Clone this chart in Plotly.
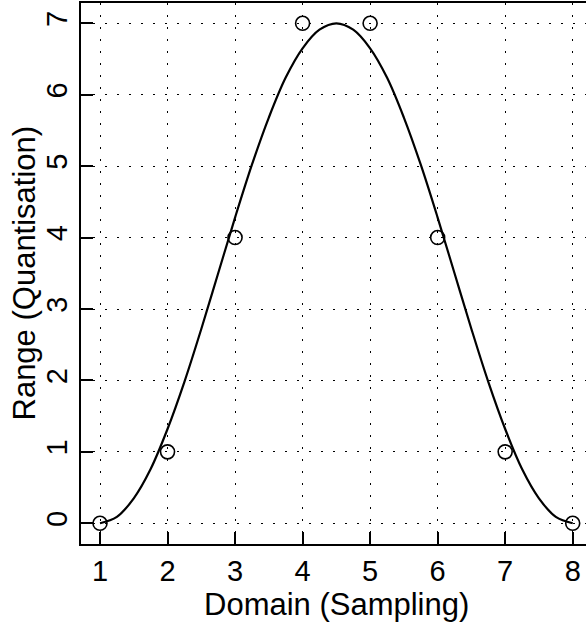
import plotly.graph_objects as go

# observed samples
sample_x = [1, 2, 3, 4, 5, 6, 7, 8]
sample_y = [0, 1, 4, 7, 7, 4, 1, 0]

# smooth reconstruction curve
curve_x = [1.0, 1.25, 1.5, 1.75, 2.0, 2.25, 2.5, 2.75, 3.0, 3.25, 3.5, 3.75, 4.0, 4.25, 4.5,
           4.75, 5.0, 5.25, 5.5, 5.75, 6.0, 6.25, 6.5, 6.75, 7.0, 7.25, 7.5, 7.75, 8.0]
curve_y = [0.0, 0.09, 0.35, 0.76, 1.32, 1.98, 2.72, 3.5, 4.28, 5.02, 5.68, 6.24, 6.65, 6.91, 7.0,
           6.91, 6.65, 6.24, 5.68, 5.02, 4.28, 3.5, 2.72, 1.98, 1.32, 0.76, 0.35, 0.09, 0.0]

x_ticks = [1, 2, 3, 4, 5, 6, 7, 8]
y_ticks = [0, 1, 2, 3, 4, 5, 6, 7]
x_title = "Domain (Sampling)"
y_title = "Range (Quantisation)"

FONT = "Liberation Sans, Arial, Helvetica, sans-serif"
TICK_FS = 29
TITLE_FS = 31

fig = go.Figure()
fig.add_trace(go.Scatter(x=curve_x, y=curve_y, mode="lines",
                         line=dict(color="black", width=2.2, shape="spline", smoothing=1.0),
                         hoverinfo="skip", showlegend=False))
fig.add_trace(go.Scatter(x=sample_x, y=sample_y, mode="markers",
                         marker=dict(symbol="circle-open", size=14, color="black",
                                     line=dict(color="black", width=1.6)),
                         showlegend=False, cliponaxis=False))

axis_common = dict(
    showline=True, linecolor="black", linewidth=2,
    ticks="inside", ticklen=12, tickwidth=2, tickcolor="black",
    showgrid=True, gridcolor="black", gridwidth=1, griddash="2px,10px",
    zeroline=False, automargin=False,
    tickfont=dict(family=FONT, size=TICK_FS, color="black"),
)

fig.update_xaxes(**axis_common, range=[0.7186, 8.197], tickvals=x_ticks,
                 ticktext=[str(v) for v in x_ticks], mirror=True, ticklabelstandoff=0)
fig.update_yaxes(**axis_common, range=[-0.29, 7.284], tickvals=y_ticks,
                 ticktext=[str(v) for v in y_ticks], tickangle=-90, ticklabelstandoff=0)

fig.add_annotation(text=x_title, xref="paper", yref="paper", x=0.5, y=0,
                   xshift=3, yshift=-60, xanchor="center", yanchor="middle",
                   showarrow=False, font=dict(family=FONT, size=TITLE_FS, color="black"))
fig.add_annotation(text=y_title, xref="paper", yref="paper", x=0, y=0.5,
                   xshift=-57, xanchor="center", yanchor="middle", textangle=-90,
                   showarrow=False, font=dict(family=FONT, size=TITLE_FS, color="black"))

fig.update_layout(width=586, height=626,
                  margin=dict(l=81, r=0, t=3, b=82),
                  plot_bgcolor="white", paper_bgcolor="white")

fig.write_html("out.html", config={"displayModeBar": False},
               post_script="document.body.style.margin='0px';")
